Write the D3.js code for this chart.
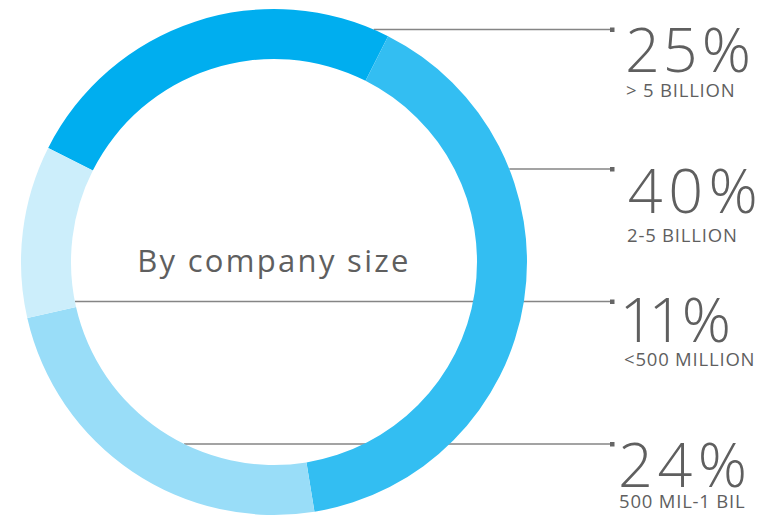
<!DOCTYPE html>
<html>
<head>
<meta charset="utf-8">
<script src="https://cdn.jsdelivr.net/npm/d3@7"></script>
<style>
  body { margin: 0; background: #fff; }
  svg { display: block; }
  text { font-family: "Open Sans", sans-serif; fill: #5f5f5f; }
</style>
</head>
<body>
<div id="chart"></div>
<script>
"use strict"

// chart data
var categories = ["> 5 BILLION", "2-5 BILLION", "500 MIL-1 BIL", "<500 MILLION"];
var shares = [25, 40, 24, 11];
var colors = ["#00aeef", "#33bef2", "#99ddf8", "#cceefb"];
var title = "By company size";

// label order on the right, top to bottom (index into categories)
var labelOrder = [0, 1, 3, 2];

var width = 778, height = 518;
var cx = 274, cy = 262, outerR = 253, innerR = 203;
var start = -63.2 * Math.PI / 180;

// layout of the right hand labels
var lineY = [29.5, 169, 301.5, 444],
    bigY = [72, 213, 342, 487],
    smallY = [97, 242, 366, 508],
    labelX = [626, 627, 624, 619],
    lineEnd = 612;

var svg = d3.select("#chart").append("svg")
    .attr("width", width)
    .attr("height", height);

var pie = d3.pie().sort(null).value(function(d) { return d; })
    .startAngle(start).endAngle(start + 2 * Math.PI);
var arcs = pie(shares);

var arc = d3.arc().innerRadius(innerR).outerRadius(outerR);

// is angle a (clockwise from north) inside slice d
function inSlice(a, d) {
  var t = 2 * Math.PI;
  var rel = ((a - d.startAngle) % t + t) % t;
  return rel <= d.endAngle - d.startAngle;
}

// leader lines go behind the ring, starting where they meet their slice
var lines = svg.append("g").attr("class", "leaders");
labelOrder.forEach(function(idx, i) {
  var d = arcs[idx],
      dy = lineY[i] - cy,
      x0 = cx;
  var candidates = [[outerR, 1], [innerR, -1], [outerR, -1], [innerR, 1]];
  for (var k = 0; k < candidates.length; k++) {
    var r = candidates[k][0], side = candidates[k][1];
    if (Math.abs(dy) > r) continue;
    var dx = side * Math.sqrt(r * r - dy * dy);
    if (inSlice(Math.atan2(dx, -dy), d)) { x0 = cx + dx; break; }
  }
  lines.append("line")
    .attr("x1", x0).attr("x2", lineEnd)
    .attr("y1", lineY[i]).attr("y2", lineY[i])
    .attr("stroke", "#858585")
    .attr("stroke-width", 1.3);
  lines.append("rect")
    .attr("x", lineEnd - 2).attr("y", lineY[i] - 2)
    .attr("width", 4.5).attr("height", 4.5)
    .attr("fill", "#666");
});

// ring
svg.append("g")
    .attr("transform", "translate(" + cx + "," + cy + ")")
  .selectAll("path")
  .data(arcs)
  .enter().append("path")
    .attr("d", arc)
    .attr("fill", function(d, i) { return colors[i]; });

// center title
svg.append("text")
    .attr("x", cx)
    .attr("y", 272)
    .attr("text-anchor", "middle")
    .style("font-size", "31px")
    .style("letter-spacing", "2.3px")
    .text(title);

// labels
var labels = svg.append("g").attr("class", "labels");
labelOrder.forEach(function(idx, i) {
  labels.append("text")
    .attr("x", labelX[i])
    .attr("y", bigY[i])
    .style("font-size", "61px")
    .style("font-weight", 300)
    .style("letter-spacing", "5px")
    .style("font-variant-numeric", "proportional-nums")
    .text(shares[idx] + "%");
  labels.append("text")
    .attr("x", labelX[i])
    .attr("y", smallY[i])
    .style("font-size", "18.5px")
    .style("letter-spacing", "0.8px")
    .text(categories[idx]);
});
</script>
</body>
</html>
